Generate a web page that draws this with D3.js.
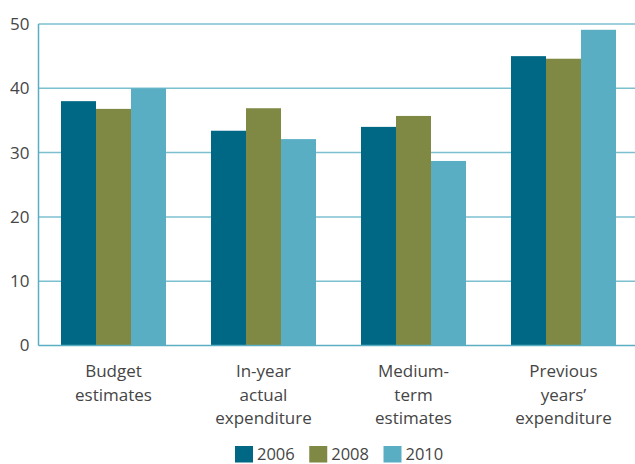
<!DOCTYPE html>
<html>
<head>
<meta charset="utf-8">
<script src="https://cdn.jsdelivr.net/npm/d3@7"></script>
<style>
  html, body { margin: 0; padding: 0; background: #fff; }
  svg { display: block; font-family: "Open Sans", "Noto Sans", sans-serif; }
</style>
</head>
<body>
<svg id="chart" width="635" height="464"></svg>
<script>
// Categories (multi-line labels) and series
const categories = ["Budget estimates", "In-year actual expenditure", "Medium-term estimates", "Previous years’ expenditure"];
const categoryLines = [["Budget", "estimates"], ["In-year", "actual", "expenditure"], ["Medium-", "term", "estimates"], ["Previous", "years’", "expenditure"]];
const seriesNames = ["2006", "2008", "2010"];
const values2006 = [38.0, 33.4, 34.0, 45.0];
const values2008 = [36.8, 36.9, 35.7, 44.6];
const values2010 = [40.0, 32.1, 28.7, 49.1];
const yTicks = [0, 10, 20, 30, 40, 50];

const colors = { "2006": "#006885", "2008": "#7f8944", "2010": "#5aaec4" };
const seriesValues = { "2006": values2006, "2008": values2008, "2010": values2010 };

const svg = d3.select("#chart");
const margin = { left: 38.5, right: -3.5, top: 24, bottom: 118.5 };
const W = 635, H = 464;
const textColor = "#454545";

const x = d3.scaleBand()
  .domain(categories)
  .range([margin.left, W - margin.right])
  .paddingInner(0.3)
  .paddingOuter(0.15);

const xInner = d3.scaleBand()
  .domain(seriesNames)
  .range([0, x.bandwidth()]);

const y = d3.scaleLinear()
  .domain([0, 50])
  .range([H - margin.bottom, margin.top]);

// Gridlines
svg.append("g")
  .selectAll("line")
  .data(yTicks.filter(t => t > 0))
  .join("line")
  .attr("x1", margin.left)
  .attr("x2", W)
  .attr("y1", d => y(d))
  .attr("y2", d => y(d))
  .attr("stroke", "#7cc0d0")
  .attr("stroke-width", 1.5);

// Bars
const groups = svg.append("g")
  .selectAll("g")
  .data(categories)
  .join("g")
  .attr("transform", d => `translate(${x(d)},0)`);

groups.selectAll("rect")
  .data((c, i) => seriesNames.map(s => ({ s, v: seriesValues[s][i] })))
  .join("rect")
  .attr("x", d => xInner(d.s))
  .attr("width", xInner.bandwidth())
  .attr("y", d => y(d.v))
  .attr("height", d => y(0) - y(d.v))
  .attr("fill", d => colors[d.s]);

// Axis lines
svg.append("line")
  .attr("x1", margin.left).attr("x2", margin.left)
  .attr("y1", y(50)).attr("y2", y(0))
  .attr("stroke", "#5aaec4").attr("stroke-width", 1.5);
svg.append("line")
  .attr("x1", margin.left).attr("x2", W)
  .attr("y1", y(0)).attr("y2", y(0))
  .attr("stroke", "#5aaec4").attr("stroke-width", 1.5);

// Y tick labels
svg.append("g")
  .selectAll("text")
  .data(yTicks)
  .join("text")
  .attr("x", 29.5)
  .attr("y", d => y(d))
  .attr("dy", "0.35em")
  .attr("text-anchor", "end")
  .attr("fill", textColor)
  .attr("font-size", 17)
  .text(d => d);

// Category labels
svg.append("g")
  .selectAll("text")
  .data(categories)
  .join("text")
  .attr("x", d => x(d) + x.bandwidth() / 2)
  .attr("y", 377)
  .attr("text-anchor", "middle")
  .attr("fill", textColor)
  .attr("font-size", 17)
  .each(function (d, i) {
    d3.select(this).selectAll("tspan")
      .data(categoryLines[i])
      .join("tspan")
      .attr("x", x(d) + x.bandwidth() / 2)
      .attr("dy", (l, j) => j === 0 ? 0 : 23.5)
      .text(l => l);
  });

// Legend
const legendX = d3.scalePoint().domain(seriesNames).range([235, 383.5]);
const legend = svg.append("g")
  .selectAll("g")
  .data(seriesNames)
  .join("g")
  .attr("transform", d => `translate(${legendX(d)},446)`);
legend.append("rect")
  .attr("width", 18).attr("height", 16.5)
  .attr("fill", d => colors[d]);
legend.append("text")
  .attr("x", 22).attr("y", 13.5)
  .attr("fill", textColor)
  .attr("font-size", 16.5)
  .text(d => d);
</script>
</body>
</html>
